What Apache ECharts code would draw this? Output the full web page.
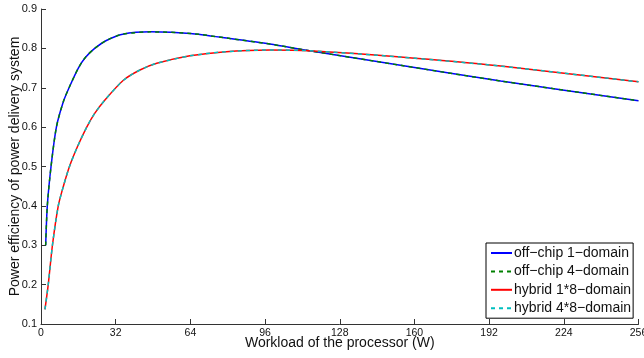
<!DOCTYPE html>
<html><head><meta charset="utf-8">
<script src="https://cdn.jsdelivr.net/npm/echarts@6/dist/echarts.min.js"></script>
<style>html,body{margin:0;padding:0;background:#fff}#c{width:644px;height:358px}</style>
</head><body><div id="c"></div>
<script>
const xTicks = [0, 32, 64, 96, 128, 160, 192, 224, 256];
const seriesNames = ['off\u2212chip 1\u2212domain', 'off\u2212chip 4\u2212domain', 'hybrid 1*8\u2212domain', 'hybrid 4*8\u2212domain'];
const offChip1 = [[2,0.30],[2.7,0.40],[4.3,0.50],[6.6,0.60],[9.6,0.665],[12.4,0.705],[16,0.75],[19,0.777],[23,0.80],[28,0.82],[35,0.836],[47,0.842],[64,0.838],[81,0.825],[98,0.811],[115,0.794],[154,0.757],[197,0.717],[256,0.667]];
const offChip4 = [[2,0.30],[2.7,0.40],[4.3,0.50],[6.6,0.60],[9.6,0.665],[12.4,0.705],[16,0.75],[19,0.777],[23,0.80],[28,0.82],[35,0.836],[47,0.842],[64,0.838],[81,0.825],[98,0.811],[115,0.794],[154,0.757],[197,0.717],[256,0.667]];
const hybrid18 = [[1.7,0.137],[3.1,0.20],[4.9,0.30],[7.4,0.40],[9.6,0.45],[12.2,0.50],[15.6,0.55],[19.6,0.60],[23,0.635],[27.4,0.669],[35.3,0.719],[42.4,0.745],[49.6,0.762],[63.8,0.781],[78,0.791],[98,0.796],[115,0.794],[154,0.778],[197,0.755],[256,0.715]];
const hybrid48 = [[1.7,0.137],[3.1,0.20],[4.9,0.30],[7.4,0.40],[9.6,0.45],[12.2,0.50],[15.6,0.55],[19.6,0.60],[23,0.635],[27.4,0.669],[35.3,0.719],[42.4,0.745],[49.6,0.762],[63.8,0.781],[78,0.791],[98,0.796],[115,0.794],[154,0.778],[197,0.755],[256,0.715]];

const font = 'Liberation Sans, Arial, Helvetica, sans-serif';
const axisCol = '#333';
function mk(name, data, color, type){
  return {name, type:'line', data, symbol:'none', smooth:0.25,
    lineStyle:{color, width:1.5, type}, itemStyle:{color}, animation:false};
}
const chart = echarts.init(document.getElementById('c'));
chart.setOption({
  animation:false,
  grid:{left:41, right:5.5, top:9, bottom:34, containLabel:false, outerBoundsMode:'none'},
  xAxis:{type:'value', min:0, max:256, interval:32,
    name:'Workload of the processor (W)', nameLocation:'middle', nameGap:19.5, nameMoveOverlap:false,
    nameTextStyle:{fontFamily:font, fontSize:14, color:'#111', verticalAlign:'middle', padding:0},
    axisLine:{show:true, lineStyle:{color:axisCol, width:1}},
    axisTick:{show:true, inside:true, length:5, lineStyle:{color:axisCol}},
    axisLabel:{fontFamily:font, fontSize:10.5, color:'#111', margin:4},
    splitLine:{show:false}},
  yAxis:{type:'value', min:0.1, max:0.9, interval:0.1,
    name:'Power efficiency of power delivery system', nameLocation:'middle', nameGap:26, nameMoveOverlap:false,
    nameTextStyle:{fontFamily:font, fontSize:14, color:'#111', verticalAlign:'middle', padding:0},
    axisLine:{show:true, lineStyle:{color:axisCol, width:1}},
    axisTick:{show:true, inside:true, length:5, lineStyle:{color:axisCol}},
    axisLabel:{fontFamily:font, fontSize:11, color:'#111', margin:4, formatter:v=>v.toFixed(1)},
    splitLine:{show:false}},
  legend:{orient:'vertical', left:486, top:243, data:seriesNames,
    backgroundColor:'#fff', borderColor:'#000', borderWidth:1, borderRadius:0,
    padding:[3,2,3,4], itemGap:4.4, itemWidth:21, itemHeight:14,
    itemStyle:{opacity:0},
    textStyle:{fontFamily:font, fontSize:14, color:'#111', padding:[0,0,0,-3]}},
  series:[
    mk(seriesNames[0], offChip1, '#0000ff', 'solid'),
    mk(seriesNames[1], offChip4, '#008000', [4,4]),
    mk(seriesNames[2], hybrid18, '#ff0000', 'solid'),
    mk(seriesNames[3], hybrid48, '#00bfbf', [4,4])
  ]
});
</script></body></html>
